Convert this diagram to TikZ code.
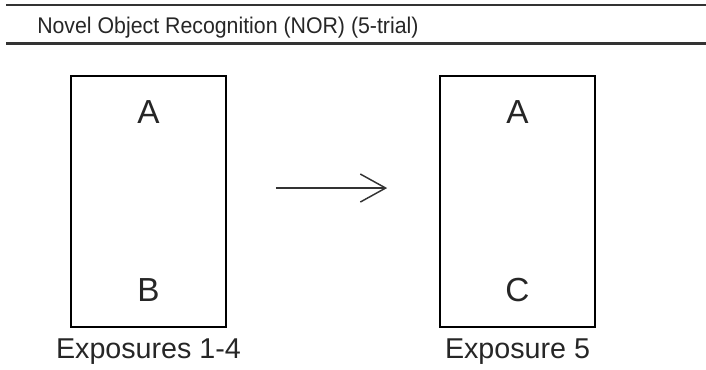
\documentclass[tikz,border=0pt]{standalone}
\usepackage{fontspec}
\setmainfont{Liberation Sans}
\newfontfamily\headfont[FakeStretch=0.94]{Liberation Sans}
\usetikzlibrary{arrows.meta}

\begin{document}
\begin{tikzpicture}[x=0.75pt,y=-0.75pt,
  arena/.style={draw,line width=1.5pt,minimum width=116pt,minimum height=188pt,inner sep=0},
  obj/.style={font=\fontsize{25}{30}\selectfont,text=black!85,inner sep=0},
  caption/.style={font=\fontsize{21.5}{26}\selectfont,text=black!85,anchor=base,inner sep=0},
  rule/.style={line width=1.6pt,black!80},
  flow/.style={line width=1pt,black!80,-{Straight Barb[length=19pt,width=21pt,line width=1.1pt]}}]
  \useasboundingbox (0,0) rectangle (706,369);
  % header
  \coordinate (r1a) at (6,5);   \coordinate (r1b) at (706,5);
  \coordinate (r2a) at (6,43.5); \coordinate (r2b) at (706,43.5);
  \draw[rule] (r1a) -- (r1b);
  \draw[rule] (r2a) -- (r2b);
  \node[anchor=base west,inner sep=0,font=\headfont\fontsize{17}{20}\selectfont,text=black!85] (title) at (37,33) {Novel Object Recognition (NOR) (5-trial)};
  % arenas
  \foreach \n/\x/\obj/\txt in {bl/148.5/B/Exposures 1-4, br/517.5/C/Exposure 5} {
    \node[arena] (\n) at (\x,201.5) {};
    \node[obj] (\n-top) at (\x,112) {A};
    \node[obj] (\n-bot) at (\x,290) {\obj};
    \node[caption] (\n-cap) at (\x,358) {\txt};
  }
  \draw[flow,shorten <=36.75pt,shorten >=39pt] ([yshift=10.1pt]bl.east) -- ([yshift=10.1pt]br.west);
\end{tikzpicture}
\end{document}
